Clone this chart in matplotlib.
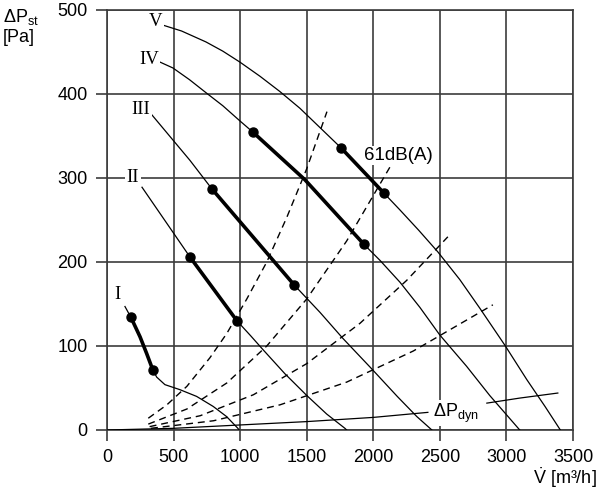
import matplotlib
matplotlib.use("Agg")
import matplotlib.pyplot as plt

plt.rcParams['font.family'] = ['Liberation Sans', 'DejaVu Sans']
plt.rcParams['mathtext.fontset'] = 'custom'
plt.rcParams['mathtext.rm'] = 'Liberation Sans'
plt.rcParams['mathtext.it'] = 'Liberation Sans:italic'

# fan curves: (flow m3/h, pressure Pa)
curve_names = ['I', 'II', 'III', 'IV', 'V']
curve_x = [
    [135, 180, 248, 298, 343, 373, 435, 548, 673, 798, 898, 983, 992],
    [263, 623, 976, 1080, 1164, 1336, 1501, 1650, 1787, 1800],
    [338, 623, 788, 1404, 1600, 1772, 1987, 2180, 2327, 2440],
    [398, 495, 620, 748, 870, 998, 1093, 1486, 1930, 2050, 2200, 2350, 2500, 2700, 2875, 3100],
    [420, 560, 743, 870, 998, 1150, 1298, 1449, 1757, 2080, 2200, 2340, 2485, 2650, 2800, 2988, 3153, 3290, 3405],
]
curve_y = [
    [147, 134, 111, 91, 72, 63, 54, 48, 40, 28, 16, 2, 0],
    [289, 206, 130, 112, 97, 67, 41, 19, 2, 0],
    [375, 321, 287, 173, 140, 109, 73, 40, 16, 0],
    [438, 431, 417, 401, 386, 368, 355, 298, 221, 202, 176, 146, 113, 76, 41, 0],
    [482, 475, 462, 451, 438, 421, 403, 383, 336, 282, 262, 238, 212, 179, 145, 101, 60, 28, 0],
]
# index of the two dots bounding the thick working range
dot_idx = [(1, 4), (1, 2), (2, 3), (6, 8), (8, 9)]
label_xy = [(82, 161), (195, 300), (255, 381), (315, 441), (366, 486)]

# system curves (dashed)
sys_x = [
    [310, 450, 600, 773, 900, 1050, 1200, 1350, 1500, 1652],
    [310, 600, 900, 1200, 1500, 1800, 2125],
    [320, 700, 1100, 1500, 1900, 2250, 2560],
    [330, 800, 1300, 1800, 2300, 2898],
]
sys_y = [
    [14, 30, 52, 86, 115, 156, 200, 253, 311, 379],
    [7, 25, 56, 100, 156, 225, 313],
    [4, 17, 42, 79, 127, 178, 230],
    [2, 11, 30, 57, 94, 149],
]

# dynamic pressure, broken around its label
dyn_x1 = [0, 500, 1000, 1500, 2000, 2410]
dyn_y1 = [0, 2, 6, 10, 15, 21]
dyn_x2 = [2853, 3100, 3386]
dyn_y2 = [32, 38, 44]

xticks = [0, 500, 1000, 1500, 2000, 2500, 3000, 3500]
yticks = [0, 100, 200, 300, 400, 500]

fig = plt.figure(figsize=(6, 5), dpi=100)
ax = fig.add_axes([107/600, 70/500, 466/600, 420/500])
ax.set_xlim(0, 3500)
ax.set_ylim(0, 500)
ax.set_xticks(xticks)
ax.set_yticks(yticks)
gc = '#3c3c3c'
ax.grid(True, color=gc, lw=1.2)
for s in ax.spines.values():
    s.set_color(gc)
    s.set_linewidth(1.2)
ax.tick_params(length=8, width=1.2, color=gc, labelsize=13, pad=6)

for xs, ys in zip(sys_x, sys_y):
    ax.plot(xs, ys, color='k', lw=1.0, dashes=(5, 3.5), zorder=3)

ax.plot(dyn_x1, dyn_y1, color='k', lw=0.9, zorder=3)
ax.plot(dyn_x2, dyn_y2, color='k', lw=0.9, zorder=3)
ax.text(2448, 16, r'$\Delta$P$_{\rm dyn}$', fontsize=13, ha='left', va='baseline', zorder=7,
        bbox=dict(facecolor='white', edgecolor='none', pad=1))

for name, xs, ys, (a, b), (lx, ly) in zip(curve_names, curve_x, curve_y, dot_idx, label_xy):
    ax.plot(xs, ys, color='k', lw=0.9, zorder=4)
    ax.plot(xs[a:b+1], ys[a:b+1], color='k', lw=2.6, zorder=5, solid_capstyle='round')
    ax.plot([xs[a], xs[b]], [ys[a], ys[b]], 'o', color='k', ms=6.5, zorder=6)
    ax.text(lx, ly, name, family='Liberation Serif', fontsize=13.5, ha='center', va='center',
            zorder=7, bbox=dict(facecolor='white', edgecolor='none', pad=1))

ax.text(2192, 327, '61dB(A)', fontsize=13.5, ha='center', va='center', zorder=7,
        bbox=dict(facecolor='white', edgecolor='none', pad=1))

fig.text(3/600, 1 - 17/500, r'$\Delta$P$_{\rm st}$', fontsize=13, ha='left', va='center')
fig.text(3/600, 1 - 38/500, '[Pa]', fontsize=13, ha='left', va='center')
fig.text(597/600, 1 - 478/500, r'$\dot{\rm V}$ [m³/h]', fontsize=13, ha='right', va='center')

fig.savefig('out.png', dpi=100)
